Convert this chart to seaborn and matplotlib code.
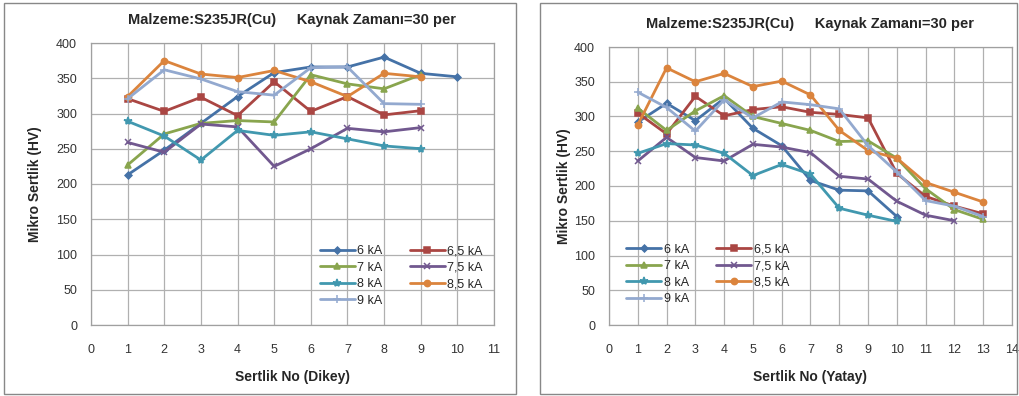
import matplotlib
matplotlib.use("Agg")
import matplotlib.pyplot as plt
from matplotlib.patches import Rectangle
import seaborn as sns
import pandas as pd

# Dikey (vertical) measurements
dikey_x = list(range(1, 11))
dikey = {
    "6 kA":   [213, 248, 286, 324, 358, 366, 366, 380, 357, 352],
    "6,5 kA": [321, 303, 323, 297, 345, 303, 324, 298, 304],
    "7 kA":   [227, 271, 286, 290, 288, 355, 342, 335, 355],
    "7,5 kA": [259, 245, 285, 281, 225, 250, 279, 274, 280],
    "8 kA":   [289, 268, 234, 276, 269, 274, 264, 254, 250],
    "8,5 kA": [324, 375, 356, 351, 361, 345, 324, 357, 352],
    "9 kA":   [321, 362, 349, 331, 326, 365, 366, 314, 313],
}

# Yatay (horizontal) measurements
yatay_x = list(range(1, 14))
yatay = {
    "6 kA":   [292, 319, 294, 326, 283, 258, 208, 194, 193, 156],
    "6,5 kA": [305, 275, 329, 301, 310, 314, 306, 303, 298, 218, 185, 171, 160],
    "7 kA":   [312, 280, 308, 330, 300, 290, 280, 264, 265, 240, 196, 166, 152],
    "7,5 kA": [236, 270, 241, 236, 260, 256, 248, 214, 210, 178, 158, 150],
    "8 kA":   [247, 261, 259, 247, 215, 231, 217, 168, 158, 149],
    "8,5 kA": [288, 370, 350, 362, 343, 351, 331, 280, 251, 240, 205, 191, 177],
    "9 kA":   [335, 313, 279, 324, 298, 321, 317, 311, 258, 220, 179, 171, 156],
}

series_colors = ["#4572A7", "#AA4643", "#89A54E", "#71588F", "#4198AF", "#DB843D", "#93A9CF"]
series_markers = ["D", "s", "^", "x", "*", "o", "+"]
marker_sizes = [3.5, 4.5, 4.5, 5, 6, 4.5, 6]

title = "Malzeme:S235JR(Cu)     Kaynak Zamanı=30 per"

sns.set_style("white")
plt.rcParams['font.family'] = ['Liberation Sans Narrow', 'Liberation Sans', 'DejaVu Sans']

fig = plt.figure(figsize=(10.2, 3.96), dpi=100)

# panel frames
fig.patches.append(Rectangle((4 / 1020, 2 / 396), 512 / 1020, 391 / 396, transform=fig.transFigure,
                             fill=False, edgecolor="#888888", lw=1))
fig.patches.append(Rectangle((540 / 1020, 2 / 396), 477 / 1020, 391 / 396, transform=fig.transFigure,
                             fill=False, edgecolor="#888888", lw=1))

ax1 = fig.add_axes([91 / 1020, 1 - 325 / 396, 403 / 1020, 282 / 396])
ax2 = fig.add_axes([609 / 1020, 1 - 325 / 396, 403 / 1020, 278 / 396])


def draw_panel(ax, xs, data, xmax, xlabel, legend_anchor, ypad):
    for i, (name, vals) in enumerate(data.items()):
        df = pd.DataFrame({"x": xs[:len(vals)], "y": vals})
        sns.lineplot(data=df, x="x", y="y", ax=ax, color=series_colors[i],
                     marker=series_markers[i], markersize=marker_sizes[i],
                     markeredgecolor=series_colors[i], markerfacecolor=series_colors[i],
                     markeredgewidth=1.1, lw=2.0, label=name)
    ax.set_xlim(0, xmax)
    ax.set_ylim(0, 400)
    ax.set_xticks(range(0, xmax + 1))
    ax.set_yticks(range(0, 401, 50))
    ax.grid(True, color="#b0b0b0", lw=0.9)
    for s in ax.spines.values():
        s.set_color("#a0a0a0")
        s.set_linewidth(0.9)
    ax.tick_params(axis="both", labelsize=9, labelcolor="#333333", color="#a0a0a0", width=0.8)
    ax.tick_params(axis="x", length=5, pad=9)
    ax.tick_params(axis="y", length=4, pad=6)
    ax.set_xlabel(xlabel, fontsize=10, fontweight="bold", labelpad=10)
    ax.set_ylabel("Mikro Sertlik (HV)", fontsize=10, fontweight="bold", labelpad=ypad)
    ax.set_title(title, fontsize=10.5, fontweight="bold", pad=14)
    handles, labels = ax.get_legend_handles_labels()
    order = [0, 2, 4, 6, 1, 3, 5]
    ax.legend([handles[k] for k in order], [labels[k] for k in order], ncol=2,
              loc="upper left", bbox_to_anchor=legend_anchor, frameon=False,
              fontsize=9, handlelength=2.8, handletextpad=0.2, columnspacing=2.2,
              labelspacing=0.35, borderaxespad=0)


draw_panel(ax1, dikey_x, dikey, 11, "Sertlik No (Dikey)", (0.555, 0.3), 10)
draw_panel(ax2, yatay_x, yatay, 14, "Sertlik No (Yatay)", (0.03, 0.31), 2)

fig.savefig("out.png", dpi=100)
